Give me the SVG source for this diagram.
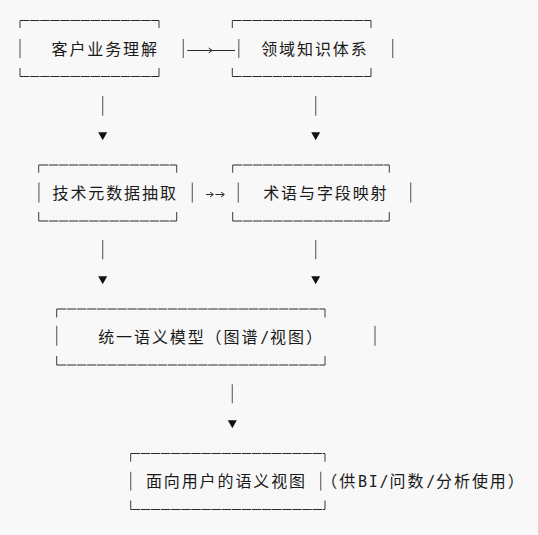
<svg xmlns="http://www.w3.org/2000/svg" width="538" height="535" viewBox="0 0 538 535">
  <style>
    .bg { fill: #f8f8f8; }
    .edge { fill: none; stroke: #2a2a2a; stroke-width: 1; stroke-dasharray: 9.4 0.7; }
    .tick { fill: none; stroke: #3a3a3a; stroke-width: 1; }
    .wall { fill: none; stroke: #6a6a6a; stroke-width: 1.2; }
    .cjk { font-family: "Noto Sans CJK SC", "Noto Sans", sans-serif; font-size: 16px; letter-spacing: 1.9px; fill: #1a1a1a; }
    .mono { font-family: "DejaVu Sans Mono", "Liberation Mono", monospace; font-size: 15px; letter-spacing: 1.77px; fill: #1a1a1a; }
    .stem { fill: none; stroke: #6a6a6a; stroke-width: 1.2; }
    .shaft { fill: none; stroke: #2a2a2a; stroke-width: 1; }
    .head { fill: none; stroke: #2a2a2a; stroke-width: 1; }
    .tri { fill: #111; }
  </style>
  <rect class="bg" x="0" y="0" width="538" height="535"/>

  <g id="node-customer-understanding">
    <path class="edge" d="M20,20.5 H159"/>
    <path class="tick" d="M20,28 V20.5 M159,28 V20.5 M20,68 V76.5 M159,68 V76.5"/>
    <path class="edge" d="M20,76.5 H159"/>
    <path class="wall" d="M20,39 V58 M183.3,39 V58"/>
    <text class="cjk" x="51.5" y="54.5">客户业务理解</text>
  </g>

  <g id="node-domain-knowledge">
    <path class="edge" d="M232.3,20.5 H371"/>
    <path class="tick" d="M232.3,28 V20.5 M371,28 V20.5 M232.3,68 V76.5 M371,68 V76.5"/>
    <path class="edge" d="M232.3,76.5 H371"/>
    <path class="wall" d="M238.8,39 V58 M392.7,39 V58"/>
    <text class="cjk" x="261.2" y="54.5">领域知识体系</text>
  </g>

  <g id="node-metadata-extraction">
    <path class="edge" d="M38.7,165 H176.7"/>
    <path class="tick" d="M38.7,172.7 V165 M176.7,172.7 V165 M38.7,212 V221 M176.7,212 V221"/>
    <path class="edge" d="M38.7,221 H176.7"/>
    <path class="wall" d="M38.9,182.5 V202.5 M192.3,182.5 V202.5"/>
    <text class="cjk" x="52.5" y="199.2">技术元数据抽取</text>
  </g>

  <g id="node-term-mapping">
    <path class="edge" d="M232.7,165 H389.3"/>
    <path class="tick" d="M232.7,172.7 V165 M389.3,172.7 V165 M232.7,212 V221 M389.3,212 V221"/>
    <path class="edge" d="M232.7,221 H389.3"/>
    <path class="wall" d="M238.3,182.5 V202.5 M410.7,182.5 V202.5"/>
    <text class="cjk" x="263.2" y="199.2">术语与字段映射</text>
  </g>

  <g id="node-unified-model">
    <path class="edge" d="M56.7,309 H325"/>
    <path class="tick" d="M56.7,317.5 V309 M325,317.5 V309 M56.7,356 V365 M325,356 V365"/>
    <path class="edge" d="M56.7,365 H325"/>
    <path class="wall" d="M56.7,325.7 V345.7 M375,325.7 V345.7"/>
    <text class="cjk" y="342.7"><tspan x="98.2">统一语义模型（图谱</tspan><tspan class="mono" x="260.2">/</tspan><tspan x="270.1">视图）</tspan></text>
  </g>

  <g id="node-user-view">
    <path class="edge" d="M130.7,453.5 H325"/>
    <path class="tick" d="M130.7,461.7 V453.5 M325,461.7 V453.5 M130.7,500.5 V509.5 M325,500.5 V509.5"/>
    <path class="edge" d="M130.7,509.5 H325"/>
    <path class="wall" d="M130.7,471.7 V490.5 M320.7,471.7 V490.5"/>
    <text class="cjk" x="145.9" y="487.3">面向用户的语义视图</text>
    <text class="cjk" y="487.3"><tspan x="321.3">（供</tspan><tspan class="mono" x="358">BI/</tspan><tspan x="389.5">问数</tspan><tspan class="mono" x="426.2">/</tspan><tspan x="436.1">分析使用）</tspan></text>
  </g>

  <g id="connectors">
    <!-- customer understanding -> domain knowledge -->
    <path class="shaft" d="M187.3,50.5 H235"/>
    <path class="head" d="M208.6,48 L212.2,50.5 L208.6,53"/>
    <!-- metadata extraction -> term mapping -->
    <path class="shaft" d="M206,194.5 H213 M215.5,194.5 H224"/>
    <path class="head" d="M210,192 L213.4,194.5 L210,197 M221,192 L224.4,194.5 L221,197"/>
    <!-- customer understanding -> metadata extraction -->
    <path class="stem" d="M102.7,96 V115.7"/>
    <polygon class="tri" points="98.2,132.3 107.2,132.3 102.7,140.3"/>
    <!-- domain knowledge -> term mapping -->
    <path class="stem" d="M315.7,96 V115.7"/>
    <polygon class="tri" points="311.2,132.3 320.2,132.3 315.7,140.3"/>
    <!-- metadata extraction -> unified model -->
    <path class="stem" d="M102.7,240 V259.3"/>
    <polygon class="tri" points="98.2,276.2 107.2,276.2 102.7,284.3"/>
    <!-- term mapping -> unified model -->
    <path class="stem" d="M315.7,240 V259.3"/>
    <polygon class="tri" points="311.2,276.2 320.2,276.2 315.7,284.3"/>
    <!-- unified model -> user view -->
    <path class="stem" d="M232.3,384.3 V403.3"/>
    <polygon class="tri" points="227.8,420.2 236.8,420.2 232.3,428.3"/>
  </g>
</svg>
